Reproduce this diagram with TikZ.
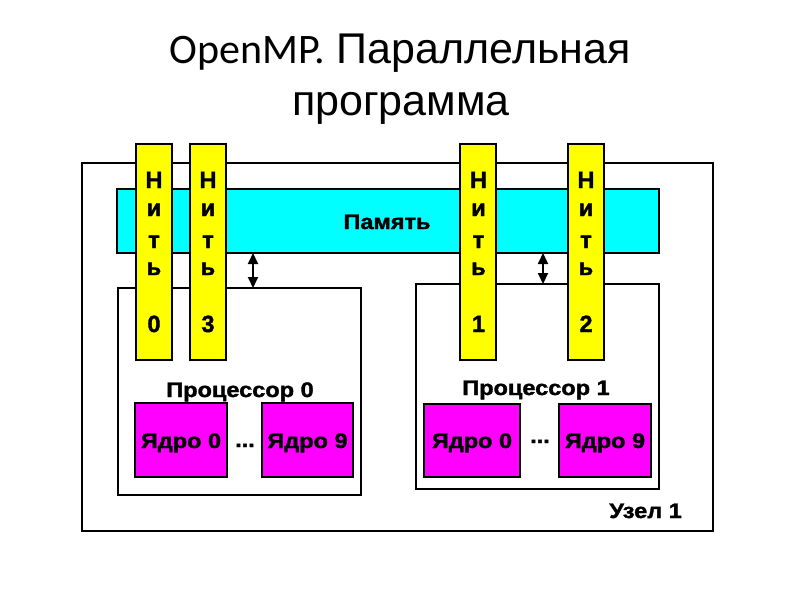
\documentclass[tikz,border=0pt]{standalone}
\usepackage{fontspec}
\setmainfont{Liberation Sans}
\newfontfamily\diagfont[FakeStretch=1.12, BoldFeatures={FakeBold=1.6}]{Liberation Sans}
\newfontfamily\thrfont[BoldFeatures={FakeBold=1.6}]{Liberation Sans}
\newfontfamily\carl{Carlito}
\usetikzlibrary{arrows.meta}
\definecolor{thryellow}{RGB}{255,255,0}
\definecolor{memcyan}{RGB}{0,255,255}
\definecolor{coremag}{RGB}{255,0,255}
\tikzset{
  box/.style={draw=black, line width=2.3pt, inner sep=0pt, outer sep=0pt, anchor=north west},
  membox/.style={box, fill=memcyan},
  corebox/.style={box, fill=coremag},
  thrbox/.style={box, fill=thryellow},
  dtext/.style={anchor=base, inner sep=0pt, font=\diagfont\bfseries\fontsize{21pt}{24pt}\selectfont},
  ttext/.style={anchor=base, inner sep=0pt, font=\thrfont\bfseries\fontsize{23.5pt}{24pt}\selectfont},
  title/.style={anchor=base, inner sep=0pt, font=\fontsize{43pt}{50pt}\selectfont},
  dbl/.style={{Triangle[length=11pt,width=10pt]}-{Triangle[length=11pt,width=10pt]}, line width=2pt}
}
\newcommand\threadcol[4]{% name, left x, center x, digit
  \node[thrbox, minimum width=36pt, minimum height=216pt] (#1) at (#2,144) {};
  \node[ttext] (#1a) at (#3,188) {Н};
  \node[ttext] (#1b) at (#3,216) {и};
  \node[ttext] (#1c) at (#3,248) {т};
  \node[ttext] (#1d) at (#3,275) {ь};
  \node[ttext] (#1e) at (#3,332) {#4};
}
\begin{document}
\begin{tikzpicture}[x=1pt,y=-1pt]
\useasboundingbox (0,0) rectangle (800,600);
% title
\node[title] (t1) at (400,63) {{\carl\fontsize{42pt}{50pt}\selectfont OpenMP.} Параллельная};
\node[title] (t2) at (401,115) {программа};
% node box
\node[box, minimum width=631pt, minimum height=368pt] (outer) at (82,163) {};
\node[dtext, anchor=base east] (uzel) at (682,518) {Узел 1};
% memory
\node[membox, minimum width=542pt, minimum height=64pt] (mem) at (117,189) {};
\node[dtext] (memt) at (387,229) {Память};
% processors
\node[box, minimum width=243pt, minimum height=207pt] (p0) at (118,288) {};
\node[box, minimum width=243pt, minimum height=205pt] (p1) at (416,284) {};
\node[dtext] (p0t) at (240,397) {Процессор 0};
\node[dtext] (p1t) at (536,395) {Процессор 1};
% arrows
\coordinate (a0) at (253,288);
\coordinate (a1) at (543,284);
\draw[dbl] (mem.south -| a0) -- (a0);
\draw[dbl] (mem.south -| a1) -- (a1);
% cores
\node[corebox, minimum width=92pt, minimum height=74pt] (c00) at (135,403) {};
\node[corebox, minimum width=91pt, minimum height=74pt] (c09) at (262,403) {};
\node[corebox, minimum width=96pt, minimum height=73pt] (c10) at (424,404) {};
\node[corebox, minimum width=92pt, minimum height=73pt] (c19) at (559,404) {};
\node[dtext] (c00t) at (c00.center |- 0,448) {Ядро 0};
\node[dtext] (c09t) at (c09.center |- 0,448) {Ядро 9};
\node[dtext] (c10t) at (c10.center |- 0,448) {Ядро 0};
\node[dtext] (c19t) at (c19.center |- 0,448) {Ядро 9};
\node[dtext] (d0) at (245,447) {...};
\node[dtext] (d1) at (540,443) {...};
% threads
\threadcol{th0}{136}{154}{0}
\threadcol{th3}{190}{208}{3}
\threadcol{th1}{460}{478.5}{1}
\threadcol{th2}{568}{586}{2}
\end{tikzpicture}
\end{document}
